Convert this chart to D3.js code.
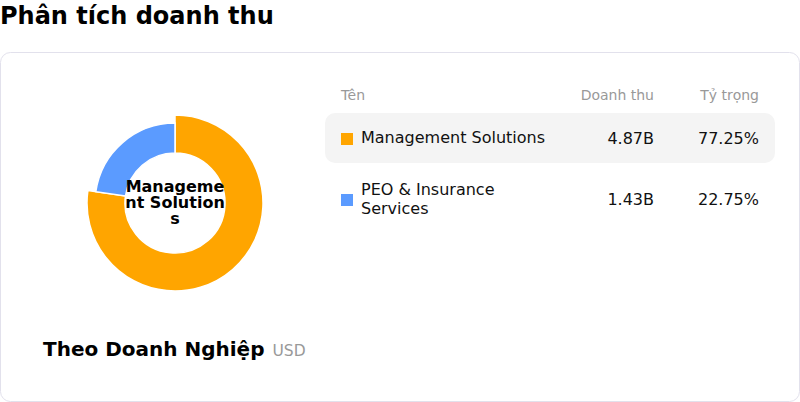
<!DOCTYPE html>
<html>
<head>
<meta charset="utf-8">
<script src="https://cdn.jsdelivr.net/npm/d3@7"></script>
<style>
  body { margin: 0; background: #fff; font-family: "DejaVu Sans", sans-serif; }
</style>
</head>
<body>
<div id="chart"></div>
<script>
// Data
const segments = ["Management Solutions", "PEO & Insurance Services"];
const revenueB = [4.87, 1.43];      // billions USD
const sharePct = [77.25, 22.75];    // percent of total
const columnHeaders = ["Tên", "Doanh thu", "Tỷ trọng"];

const width = 800, height = 402;
const palette = ["#ffa500", "#5b9bff"];

const svg = d3.select("#chart").append("svg")
    .attr("width", width)
    .attr("height", height)
    .style("font-family", "'DejaVu Sans', sans-serif");

// Page title
svg.append("text")
    .attr("x", 0)
    .attr("y", 24)
    .attr("font-size", 24)
    .attr("font-weight", "bold")
    .attr("fill", "#000")
    .text("Phân tích doanh thu");

// Card
svg.append("rect")
    .attr("x", 0.5)
    .attr("y", 52.5)
    .attr("width", 799)
    .attr("height", 349)
    .attr("rx", 10)
    .attr("fill", "#fff")
    .attr("stroke", "#e2e1ec");

// Donut
const cx = 175, cy = 203;
const pie = d3.pie().sort(null).value(d => d);
const arcs = pie(sharePct);
const arcNormal = d3.arc().innerRadius(50).outerRadius(80);
const arcActive = d3.arc().innerRadius(50).outerRadius(88);

const donut = svg.append("g").attr("transform", `translate(${cx},${cy})`);
donut.selectAll("path")
    .data(arcs)
    .enter()
    .append("path")
    .attr("d", (d, i) => i === 0 ? arcActive(d) : arcNormal(d))
    .attr("fill", (d, i) => palette[i])
    .attr("stroke", "#fff")
    .attr("stroke-width", 1.5);

// Center label, broken by character to fit inside the hole
const centerLabel = donut.append("text")
    .attr("text-anchor", "middle")
    .attr("font-size", 16)
    .attr("font-weight", "bold")
    .attr("fill", "#000");

function breakChars(textEl, str, maxW) {
    const probe = textEl.append("tspan");
    const lines = [];
    let cur = "";
    for (const ch of str) {
        probe.text(cur + ch);
        if (probe.node().getComputedTextLength() > maxW && cur.length) {
            lines.push(cur);
            cur = ch;
        } else {
            cur += ch;
        }
    }
    lines.push(cur);
    probe.remove();
    return lines;
}

const centerLines = breakChars(centerLabel, segments[0], 101);
const lh = 16;
centerLines.forEach((ln, i) => {
    centerLabel.append("tspan")
        .attr("x", 0)
        .attr("y", (i - (centerLines.length - 1) / 2) * lh + 5)
        .text(ln);
});

// Chart caption
const caption = svg.append("text")
    .attr("x", 43)
    .attr("y", 356);
caption.append("tspan")
    .attr("font-size", 20)
    .attr("font-weight", "bold")
    .attr("fill", "#000")
    .text("Theo Doanh Nghiệp");
caption.append("tspan")
    .attr("dx", 8)
    .attr("font-size", 15.5)
    .attr("fill", "#999")
    .text("USD");

// Table
const colName = 341, colRevenue = 654, colShare = 759;
const table = svg.append("g");

table.selectAll(".hdr")
    .data(columnHeaders)
    .enter()
    .append("text")
    .attr("x", (d, i) => [colName, colRevenue, colShare][i])
    .attr("y", 100)
    .attr("text-anchor", (d, i) => i === 0 ? "start" : "end")
    .attr("font-size", 14)
    .attr("fill", "#999")
    .text(d => d);

const rowY = [138, 199];

// highlight of the active row
table.append("rect")
    .attr("x", 325)
    .attr("y", rowY[0] - 25)
    .attr("width", 450)
    .attr("height", 50)
    .attr("rx", 10)
    .attr("fill", "#f4f4f4");

const fmtPct = d3.format(".2f");

segments.forEach((name, i) => {
    const y = rowY[i];
    const row = table.append("g");

    row.append("rect")
        .attr("x", colName)
        .attr("y", y - 5)
        .attr("width", 12)
        .attr("height", 12)
        .attr("fill", palette[i]);

    const label = row.append("text")
        .attr("font-size", 16)
        .attr("fill", "#111");

    // word wrap the name
    const words = name.split(" ");
    const lines = [];
    let cur = "";
    const probe = label.append("tspan");
    words.forEach(w => {
        const t = cur ? cur + " " + w : w;
        probe.text(t);
        if (probe.node().getComputedTextLength() > 190 && cur) {
            lines.push(cur);
            cur = w;
        } else {
            cur = t;
        }
    });
    lines.push(cur);
    probe.remove();

    const nameLh = 19;
    lines.forEach((ln, j) => {
        label.append("tspan")
            .attr("x", colName + 20)
            .attr("y", y + 6 + (j - (lines.length - 1) / 2) * nameLh - 1)
            .text(ln);
    });

    row.append("text")
        .attr("x", colRevenue)
        .attr("y", y + 6)
        .attr("text-anchor", "end")
        .attr("font-size", 16)
        .attr("fill", "#111")
        .text(revenueB[i].toFixed(2) + "B");

    row.append("text")
        .attr("x", colShare)
        .attr("y", y + 6)
        .attr("text-anchor", "end")
        .attr("font-size", 16)
        .attr("fill", "#111")
        .text(fmtPct(sharePct[i]) + "%");
});
</script>
</body>
</html>
